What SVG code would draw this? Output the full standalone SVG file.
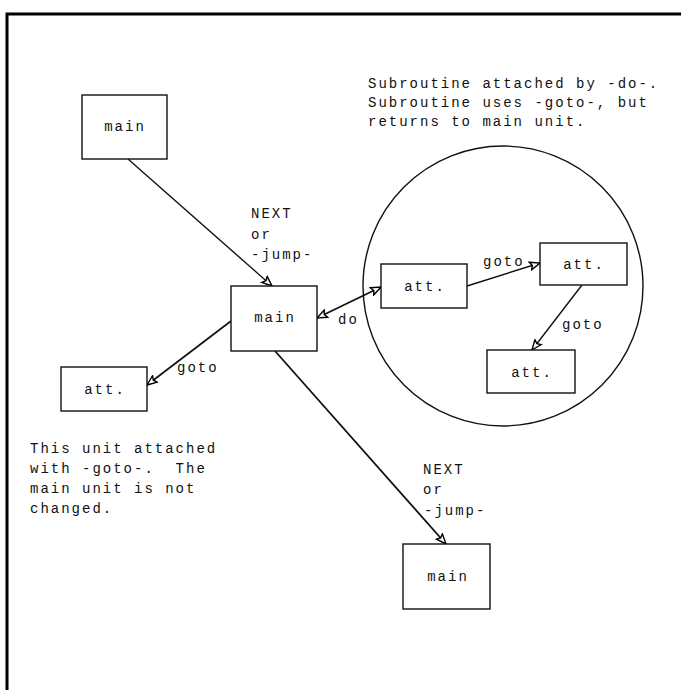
<svg xmlns="http://www.w3.org/2000/svg" width="681" height="690" viewBox="0 0 681 690">
<defs>
<marker id="ah" viewBox="0 0 12 10" refX="11" refY="5" markerWidth="12" markerHeight="10" markerUnits="userSpaceOnUse" orient="auto-start-reverse">
<path d="M1,1 L11,5 L1,9 L3,5 Z" fill="#fff" stroke="#000" stroke-width="1.4"/>
</marker>
</defs>
<style>
.bx{fill:#fff;stroke:#111;stroke-width:1.4}
.t{font-family:"Liberation Mono","DejaVu Sans Mono",monospace;font-size:14px;fill:#111;letter-spacing:2px;white-space:pre}
.c{text-anchor:middle}
.ln{stroke:#111;stroke-width:1.4;fill:none}
.bd{stroke-width:1.8}
</style>
<rect width="681" height="690" fill="#fff"/>
<path d="M7,690 L7,14 L681,14" fill="none" stroke="#000" stroke-width="3"/>
<circle cx="503" cy="286" r="140" class="ln"/>
<g id="connectors">
<line class="ln" x1="128" y1="159" x2="272" y2="286" marker-end="url(#ah)"/>
<line class="ln bd" x1="231" y1="321" x2="147" y2="385" marker-end="url(#ah)"/>
<line class="ln bd" x1="275" y1="351" x2="446" y2="544" marker-end="url(#ah)"/>
<line class="ln bd" x1="317" y1="318" x2="381" y2="287" marker-start="url(#ah)" marker-end="url(#ah)"/>
<line class="ln" x1="467" y1="286" x2="540" y2="263" marker-end="url(#ah)"/>
<line class="ln" x1="582" y1="285" x2="532" y2="350" marker-end="url(#ah)"/>
</g>
<g id="main1"><rect class="bx" x="82" y="95" width="85" height="64"/><text class="t c" x="125" y="131">main</text></g>
<g id="main2"><rect class="bx" x="231" y="286" width="86" height="65"/><text class="t c" x="275" y="322">main</text></g>
<g id="main3"><rect class="bx" x="403" y="544" width="87" height="65"/><text class="t c" x="448" y="581">main</text></g>
<g id="att0"><rect class="bx" x="61" y="367" width="86" height="44"/><text class="t c" x="105" y="394">att.</text></g>
<g id="att1"><rect class="bx" x="381" y="264" width="86" height="44"/><text class="t c" x="425" y="291">att.</text></g>
<g id="att2"><rect class="bx" x="540" y="243" width="87" height="42"/><text class="t c" x="584" y="269">att.</text></g>
<g id="att3"><rect class="bx" x="487" y="350" width="88" height="43"/><text class="t c" x="532" y="377">att.</text></g>
<g id="labels">
<text class="t" x="251" y="218">NEXT</text>
<text class="t" x="251" y="239">or</text>
<text class="t" x="251" y="259">-jump-</text>
<text class="t" x="423" y="474">NEXT</text>
<text class="t" x="423" y="494">or</text>
<text class="t" x="424" y="515">-jump-</text>
<text class="t" x="177" y="372">goto</text>
<text class="t" x="338" y="324">do</text>
<text class="t" x="483" y="266">goto</text>
<text class="t" x="562" y="329">goto</text>
<text class="t" x="368" y="88">Subroutine attached by -do-.</text>
<text class="t" x="368" y="107">Subroutine uses -goto-, but</text>
<text class="t" x="368" y="126">returns to main unit.</text>
<text class="t" x="30" y="453">This unit attached</text>
<text class="t" x="30" y="473" xml:space="preserve">with -goto-.  The</text>
<text class="t" x="30" y="493">main unit is not</text>
<text class="t" x="30" y="513">changed.</text>
</g>
</svg>
